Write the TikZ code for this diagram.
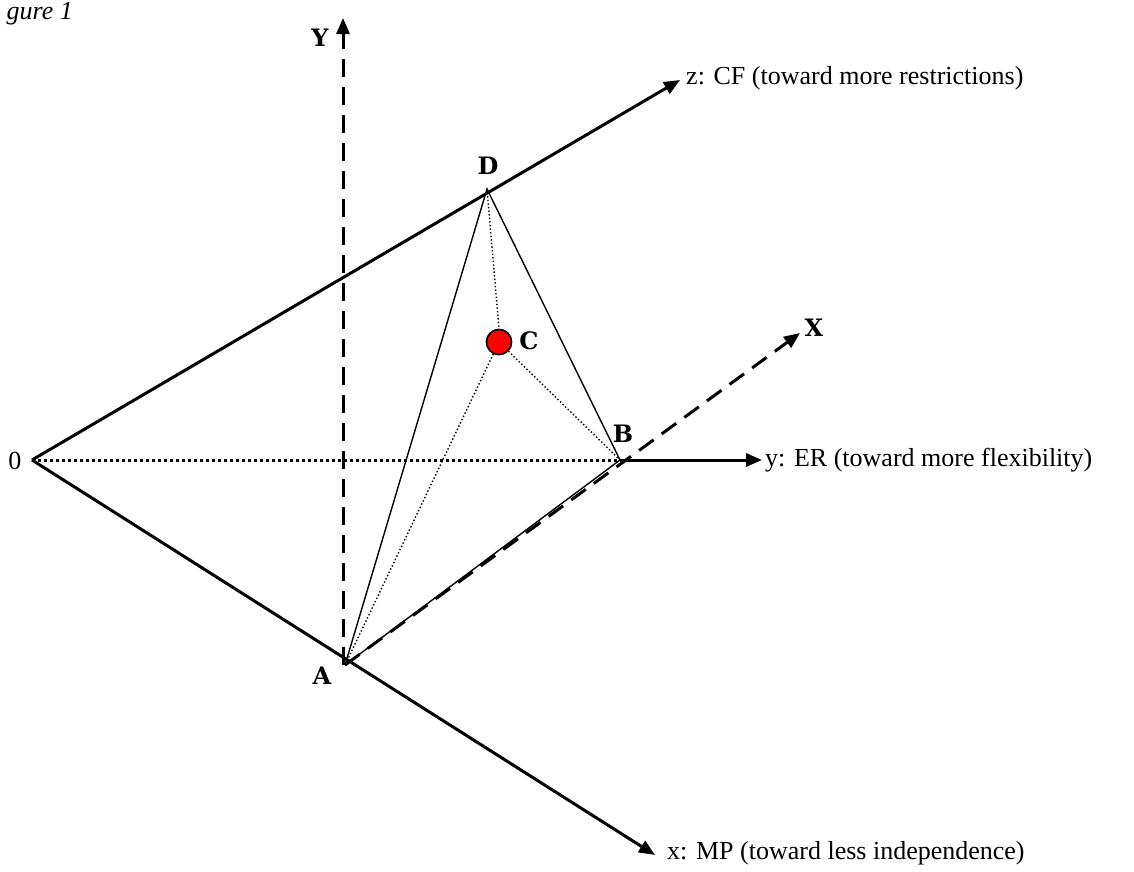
\documentclass[tikz,border=0pt]{standalone}
\usepackage{fontspec}
\setmainfont{Liberation Serif}
\newfontfamily\ptfont{DejaVu Serif}
\usetikzlibrary{arrows.meta}
\begin{document}
\begin{tikzpicture}[x=1pt,y=-1pt,
  axis/.style={line width=3pt,-{Triangle[length=16pt,width=13pt]}},
  dashaxis/.style={line width=3pt,dash pattern=on 18pt off 10pt,-{Triangle[length=16pt,width=13pt]}},
  thinline/.style={line width=1.4pt},
  thindot/.style={line width=1.4pt,dash pattern=on 1.4pt off 2.2pt},
  thickdot/.style={line width=3pt,dash pattern=on 3pt off 3pt},
  ptlabel/.style={font=\ptfont\bfseries\fontsize{24}{28}\selectfont,inner sep=0pt},
  axlabel/.style={font=\fontsize{26}{28}\selectfont,inner sep=0pt,anchor=west},
  dot/.style={circle,fill=red,draw,line width=1.5pt,minimum size=25pt,inner sep=0pt}]
\useasboundingbox (0,0) rectangle (1134,871);
% points
\coordinate (O) at (32,460);
\coordinate (A) at (345,665);
\coordinate (B) at (620,460);
\coordinate (D) at (487,189);
\coordinate (Ztip) at (680,80);
\coordinate (Ytip) at (762,460);
\coordinate (Xtip) at (655,855);
\coordinate (YAtip) at (343,18);
\coordinate (XAtip) at (800,333);
\coordinate (YAbase) at (343,665);
% thin tetrahedron edges
\draw[thinline] (A) -- (D) -- (B) -- (A);
\node[dot] (C) at (499,342) {};
\draw[thindot] (D) -- (C.north);
\draw[thindot] (C) -- (A);
\draw[thindot] (C) -- (B);
% axes
\draw[thickdot] (O) -- (B);
\draw[axis] (B) -- (Ytip);
\draw[axis] (O) -- (Ztip);
\draw[axis] (O) -- (Xtip);
\draw[dashaxis] (YAbase) -- (YAtip);
\draw[dashaxis] (A) -- (XAtip);
\node[dot] at (C) {};
% labels
\node[font=\fontsize{26}{28}\selectfont,inner sep=0pt] (lO) at (15,461) {0};
\node[ptlabel] (lY) at (320,38) {Y};
\node[ptlabel] (lX) at (814,328) {X};
\node[ptlabel] (lA) at (322,676) {A};
\node[ptlabel] (lB) at (623,434) {B};
\node[ptlabel] (lC) at (529,341) {C};
\node[ptlabel] (lD) at (488,166) {D};
\node[axlabel] (lz) at (686,78) {z: CF (toward more restrictions)};
\node[axlabel] (ly) at (765,460) {y: ER (toward more flexibility)};
\node[axlabel] (lx) at (667,853) {x: MP (toward less independence)};
\node[font=\itshape\fontsize{26}{30}\selectfont,inner sep=0pt,anchor=base east] (fig) at (73,19) {gure 1};
\end{tikzpicture}
\end{document}
